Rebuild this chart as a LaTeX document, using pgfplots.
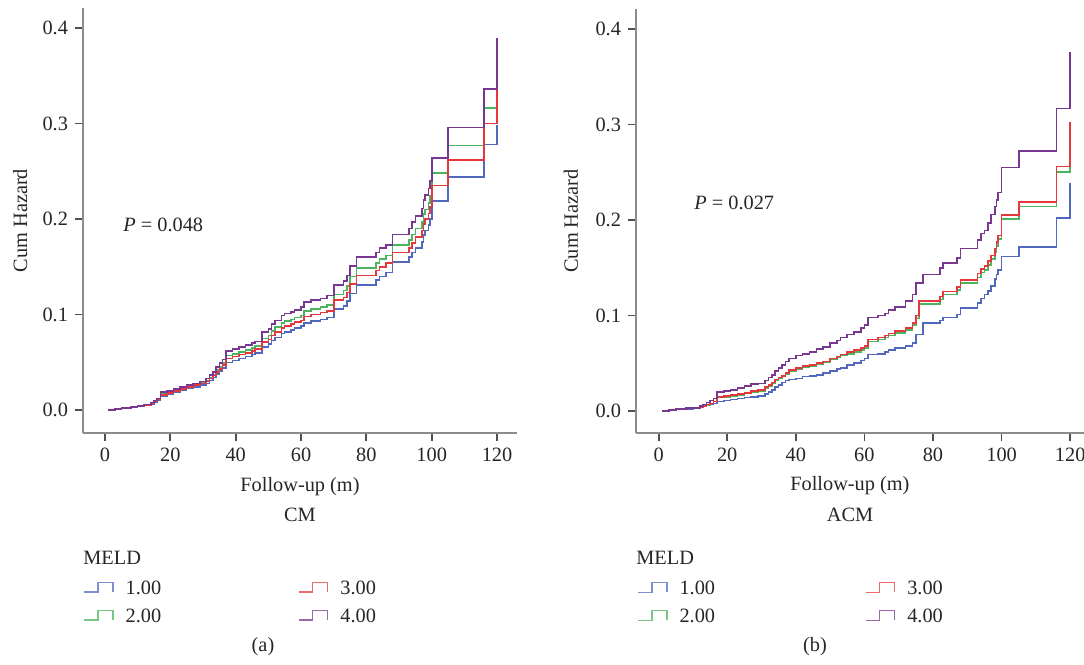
\documentclass[border=0pt]{standalone}
\usepackage{fontspec}
\setmainfont{Liberation Serif}
\usepackage{pgfplots}
\pgfplotsset{compat=1.18}

\definecolor{cblue}{RGB}{80,105,190}
\definecolor{cgreen}{RGB}{75,180,95}
\definecolor{cred}{RGB}{230,55,60}
\definecolor{cpurple}{RGB}{120,55,145}
\definecolor{axisgray}{RGB}{140,140,140}
\definecolor{tickgray}{RGB}{80,80,80}

\newcommand\fs{\fontsize{10.2}{12}\selectfont}

\pgfplotsset{
  km/.style={
    scale only axis,
    axis lines=left,
    axis line style={-, color=axisgray, line width=1.2bp},
    xtick={0,20,40,60,80,100,120},
    ytick={0,0.1,0.2,0.3,0.4},
    yticklabel style={/pgf/number format/.cd,fixed,fixed zerofill,precision=1},
    /pgf/number format/assume math mode=true,
    tick align=outside, major tick length=4bp,
    tick style={color=tickgray, line width=0.9bp},
    tick label style={font=\fs, color=black!85},
    label style={font=\fs, color=black!85},
    ylabel={Cum Hazard},
    xlabel={Follow-up (m)},
    every axis plot/.append style={const plot, line width=0.8bp, no marks},
    legend columns=2,
    legend image code/.code={\draw[#1, line width=0.6bp, opacity=0.75] (0bp,-2.4bp) -- (7bp,-2.4bp) -- (7bp,2.4bp) -- (14.5bp,2.4bp) -- (14.5bp,-2.4bp);},
    legend style={draw=none, fill=none, font=\fs, inner sep=0pt, anchor=north west,
      nodes={inner sep=3bp, text height=7.5bp, text depth=0.5bp, text=black!85},
      /tikz/every odd column/.append style={column sep=3bp}},
  }
}

\begin{document}
\begin{tikzpicture}
\path[use as bounding box] (0,0) rectangle (542bp,332.5bp);

% ---------------- (a) CM
\begin{axis}[km,
  at={(41.5bp,116bp)}, anchor=south west,
  width=217bp, height=212.5bp,
  xmin=-6.73, xmax=126.1, ymin=-0.024, ymax=0.421,
  ylabel style={at={(axis description cs:-0.145,0.5)}, anchor=center},
  xlabel style={at={(axis description cs:0.5,-0.125)}, anchor=center},
  legend style={at={(axis description cs:0,-0.329)},
    /tikz/every even column/.append style={column sep=65.5bp}},
]
% 1.00
\addplot[cblue, forget plot] coordinates {
(1,0) (3,0.001) (5,0.002) (8,0.003) (10,0.004) (12,0.005) (14,0.006) (15,0.008) (16,0.010) (17,0.015) (19,0.017) (21,0.019) (23,0.021) (25,0.023) (27,0.024) (29,0.026) (31,0.028) (32,0.031) (33,0.034) (34,0.038) (35,0.041) (36,0.044) (37,0.050) (39,0.052) (41,0.054) (43,0.056) (45,0.058) (46,0.060) (48,0.066) (50,0.069) (51,0.073) (52,0.076) (54,0.080) (55,0.082) (57,0.084) (58,0.086) (60,0.088) (61,0.091) (63,0.093) (66,0.095) (68,0.097) (70,0.106) (73,0.109) (74,0.114) (75,0.122) (77,0.131) (83,0.136) (84,0.140) (86,0.144) (88,0.155) (93,0.160) (94,0.165) (95,0.170) (97,0.176) (97.5,0.183) (98,0.188) (99,0.194) (99.5,0.200) (100,0.219) (105,0.244) (116,0.278) (120,0.298)
};
% 2.00
\addplot[cgreen, forget plot] coordinates {
(1,0) (3,0.001) (5,0.002) (8,0.003) (10,0.004) (12,0.005) (14,0.007) (15,0.009) (16,0.011) (17,0.017) (19,0.019) (21,0.021) (23,0.023) (25,0.025) (27,0.027) (29,0.029) (31,0.031) (32,0.034) (33,0.037) (34,0.042) (35,0.045) (36,0.049) (37,0.057) (39,0.059) (41,0.061) (43,0.063) (45,0.065) (46,0.067) (48,0.075) (50,0.078) (51,0.083) (52,0.087) (54,0.091) (55,0.093) (57,0.095) (58,0.097) (60,0.099) (61,0.104) (63,0.106) (66,0.108) (68,0.110) (70,0.121) (73,0.125) (74,0.130) (75,0.140) (77,0.149) (83,0.154) (84,0.158) (86,0.162) (88,0.173) (93,0.178) (94,0.184) (95,0.190) (97,0.197) (97.5,0.205) (98,0.210) (99,0.217) (99.5,0.224) (100,0.248) (105,0.277) (116,0.316) (120,0.365)
};
% 3.00
\addplot[cred, forget plot] coordinates {
(1,0) (3,0.001) (5,0.002) (8,0.003) (10,0.004) (12,0.005) (14,0.007) (15,0.009) (16,0.011) (17,0.016) (19,0.018) (21,0.020) (23,0.022) (25,0.024) (27,0.026) (29,0.028) (31,0.030) (32,0.033) (33,0.036) (34,0.040) (35,0.043) (36,0.047) (37,0.054) (39,0.056) (41,0.058) (43,0.060) (45,0.062) (46,0.064) (48,0.071) (50,0.074) (51,0.078) (52,0.082) (54,0.086) (55,0.088) (57,0.090) (58,0.092) (60,0.094) (61,0.098) (63,0.100) (66,0.102) (68,0.104) (70,0.115) (73,0.118) (74,0.123) (75,0.132) (77,0.141) (83,0.146) (84,0.150) (86,0.154) (88,0.165) (93,0.170) (94,0.175) (95,0.181) (97,0.188) (97.5,0.195) (98,0.200) (99,0.206) (99.5,0.213) (100,0.235) (105,0.262) (116,0.300) (120,0.347)
};
% 4.00
\addplot[cpurple, forget plot] coordinates {
(1,0) (3,0.001) (5,0.002) (8,0.003) (10,0.004) (12,0.006) (14,0.008) (15,0.010) (16,0.012) (17,0.019) (19,0.020) (21,0.022) (23,0.024) (25,0.026) (27,0.028) (29,0.030) (31,0.033) (32,0.037) (33,0.040) (34,0.045) (35,0.049) (36,0.053) (37,0.062) (39,0.064) (41,0.066) (43,0.068) (45,0.070) (46,0.072) (48,0.082) (50,0.085) (51,0.090) (52,0.094) (54,0.099) (55,0.101) (57,0.103) (58,0.105) (60,0.108) (61,0.113) (63,0.115) (66,0.117) (68,0.120) (70,0.131) (73,0.135) (74,0.141) (75,0.151) (77,0.160) (83,0.165) (84,0.170) (86,0.173) (88,0.184) (93,0.190) (94,0.197) (95,0.203) (97,0.211) (97.5,0.220) (98,0.225) (99,0.232) (99.5,0.240) (100,0.264) (105,0.296) (116,0.336) (120,0.390)
};
\node[anchor=west, inner sep=0pt, font=\fs, text=black!85] at (axis cs:5.5,0.194) {\textit{P} = 0.048};
\addlegendimage{cblue}\addlegendentry{1.00}
\addlegendimage{cred}\addlegendentry{3.00}
\addlegendimage{cgreen}\addlegendentry{2.00}
\addlegendimage{cpurple}\addlegendentry{4.00}
\end{axis}

% ---------------- (b) ACM
\begin{axis}[km,
  at={(318bp,116bp)}, anchor=south west,
  width=232bp, height=212bp,
  xmin=-6.6, xmax=128.7, ymin=-0.023, ymax=0.421,
  ylabel style={at={(axis description cs:-0.14,0.5)}, anchor=center},
  xlabel style={at={(axis description cs:0.461,-0.125)}, anchor=center},
  legend style={at={(axis description cs:0.002,-0.33)},
    /tikz/every even column/.append style={column sep=72bp}},
]
% 1.00
\addplot[cblue, forget plot] coordinates {
(1,0) (3,0.001) (5,0.002) (8,0.002) (10,0.003) (12,0.004) (13,0.005) (14,0.006) (15,0.007) (16,0.008) (17,0.010) (19,0.011) (21,0.012) (23,0.013) (25,0.014) (27,0.015) (29,0.016) (31,0.018) (32,0.020) (33,0.022) (34,0.025) (35,0.027) (36,0.030) (37,0.032) (38,0.033) (40,0.034) (42,0.036) (44,0.037) (46,0.038) (48,0.040) (50,0.042) (52,0.044) (53,0.045) (55,0.048) (57,0.050) (59,0.053) (60,0.055) (61,0.059) (64,0.060) (66,0.062) (67,0.064) (69,0.066) (72,0.068) (74,0.071) (75,0.080) (77,0.092) (82,0.095) (83,0.098) (87,0.101) (88,0.108) (93,0.113) (94,0.118) (95,0.122) (96,0.126) (97,0.131) (98,0.138) (98.5,0.143) (99,0.148) (100,0.162) (105,0.172) (116,0.202) (120,0.239)
};
% 2.00
\addplot[cgreen, forget plot] coordinates {
(1,0) (3,0.001) (5,0.002) (8,0.003) (10,0.003) (12,0.004) (13,0.005) (14,0.006) (15,0.008) (16,0.010) (17,0.014) (19,0.015) (21,0.016) (23,0.017) (25,0.019) (27,0.020) (29,0.021) (31,0.024) (32,0.026) (33,0.029) (34,0.032) (35,0.034) (36,0.036) (37,0.039) (38,0.042) (40,0.044) (42,0.046) (44,0.047) (46,0.049) (48,0.051) (50,0.054) (52,0.056) (53,0.058) (55,0.060) (57,0.062) (59,0.064) (60,0.066) (61,0.073) (64,0.075) (66,0.077) (67,0.079) (69,0.082) (72,0.085) (74,0.090) (75,0.097) (76,0.112) (82,0.117) (83,0.122) (87,0.127) (88,0.134) (93,0.140) (94,0.145) (95,0.148) (96,0.153) (97,0.159) (98,0.166) (98.5,0.173) (99,0.180) (100,0.201) (105,0.214) (116,0.250) (120,0.290)
};
% 3.00
\addplot[cred, forget plot] coordinates {
(1,0) (3,0.001) (5,0.002) (8,0.003) (10,0.003) (12,0.004) (13,0.005) (14,0.007) (15,0.008) (16,0.010) (17,0.015) (19,0.016) (21,0.017) (23,0.018) (25,0.019) (27,0.021) (29,0.022) (31,0.025) (32,0.027) (33,0.030) (34,0.033) (35,0.035) (36,0.037) (37,0.040) (38,0.043) (40,0.045) (42,0.047) (44,0.048) (46,0.050) (48,0.052) (50,0.055) (52,0.057) (53,0.059) (55,0.062) (57,0.064) (59,0.066) (60,0.068) (61,0.075) (64,0.077) (66,0.079) (67,0.081) (69,0.084) (72,0.087) (74,0.092) (75,0.100) (76,0.115) (82,0.120) (83,0.125) (87,0.130) (88,0.137) (93,0.144) (94,0.149) (95,0.152) (96,0.157) (97,0.163) (98,0.170) (98.5,0.177) (99,0.184) (100,0.205) (105,0.219) (116,0.256) (120,0.303)
};
% 4.00
\addplot[cpurple, forget plot] coordinates {
(1,0) (3,0.001) (5,0.002) (8,0.003) (10,0.003) (12,0.005) (13,0.007) (14,0.009) (15,0.011) (16,0.013) (17,0.020) (19,0.021) (21,0.022) (23,0.024) (25,0.026) (27,0.028) (29,0.029) (31,0.032) (32,0.035) (33,0.038) (34,0.042) (35,0.045) (36,0.048) (37,0.052) (38,0.055) (40,0.058) (42,0.060) (44,0.062) (46,0.065) (48,0.067) (50,0.071) (52,0.074) (53,0.077) (55,0.080) (57,0.083) (59,0.087) (60,0.090) (61,0.098) (64,0.100) (66,0.102) (67,0.106) (69,0.109) (72,0.115) (74,0.122) (75,0.134) (77,0.143) (82,0.150) (83,0.155) (87,0.160) (88,0.170) (93,0.179) (94,0.186) (95,0.189) (96,0.197) (97,0.206) (98,0.214) (98.5,0.221) (99,0.229) (100,0.255) (105,0.272) (116,0.317) (120,0.376)
};
\node[anchor=west, inner sep=0pt, font=\fs, text=black!85] at (axis cs:10.3,0.218) {\textit{P} = 0.027};
\addlegendimage{cblue}\addlegendentry{1.00}
\addlegendimage{cred}\addlegendentry{3.00}
\addlegendimage{cgreen}\addlegendentry{2.00}
\addlegendimage{cpurple}\addlegendentry{4.00}
\end{axis}

% titles, legend headers, panel tags
\node[font=\fs, text=black!85] at (150bp,75bp) {CM};
\node[font=\fs, text=black!85] at (425bp,75bp) {ACM};
\node[font=\fs, text=black!85, anchor=west, inner sep=0pt] at (41.5bp,53.5bp) {MELD};
\node[font=\fs, text=black!85, anchor=west, inner sep=0pt] at (318bp,53.5bp) {MELD};
\node[font=\fs, text=black!85] at (131.5bp,9bp) {(a)};
\node[font=\fs, text=black!85] at (407.5bp,9bp) {(b)};
\end{tikzpicture}
\end{document}
